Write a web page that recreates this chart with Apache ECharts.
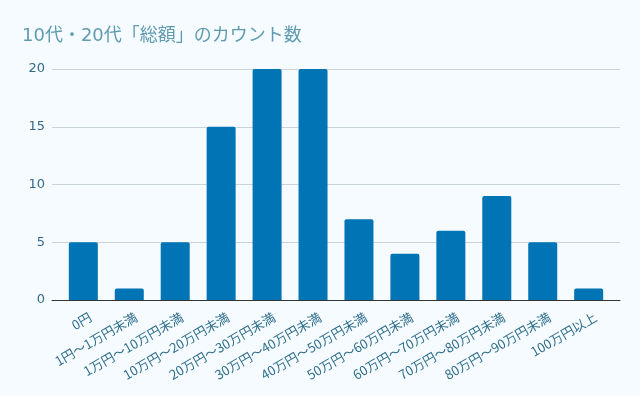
<!DOCTYPE html>
<html><head><meta charset="utf-8">
<script src="https://cdn.jsdelivr.net/npm/echarts@6/dist/echarts.min.js"></script>
<style>html,body{margin:0;padding:0;background:#f5fbff;}#c{width:640px;height:396px;}</style>
</head><body><div id="c"></div>
<script>
const titleText = '10代・20代「総額」のカウント数';
const categories = ['0円','1円～1万円未満','1万円～10万円未満','10万円～20万円未満','20万円～30万円未満','30万円～40万円未満','40万円～50万円未満','50万円～60万円未満','60万円～70万円未満','70万円～80万円未満','80万円～90万円未満','100万円以上'];
const counts = [5,1,5,15,20,20,7,4,6,9,5,1];
const yTicks = [0,5,10,15,20];

const font = '"DejaVu Sans", "Noto Sans CJK JP", sans-serif';
const cjkFont = '"Noto Sans CJK JP", sans-serif';
const labelShift = 0.15;
const chart = echarts.init(document.getElementById('c'));
chart.setOption({
  backgroundColor: '#f5fbff',
  animation: false,
  title: {
    text: titleText, left: 17, top: 22,
    textStyle: {fontFamily: font, fontSize: 18, fontWeight: 'normal', color: '#5f9bb1'}
  },
  grid: {left: 52, right: 20, top: 69, bottom: 96},
  xAxis: {
    type: 'value', min: -0.682, max: categories.length - 1 + 0.682,
    axisLine: {show: true, onZero: false, lineStyle: {color: '#333', width: 1}},
    axisTick: {show: false},
    splitLine: {show: false},
    axisLabel: {
      customValues: categories.map((c, i) => i + labelShift),
      formatter: v => categories[Math.round(v - labelShift)] || '',
      rotate: 30, margin: 16, fontSize: 13, color: '#2f6e8c', fontFamily: cjkFont
    }
  },
  yAxis: {
    type: 'value', min: 0, max: 20, interval: 5,
    axisLine: {show: false}, axisTick: {show: false},
    splitLine: {lineStyle: {color: '#c9d4da', width: 1}},
    axisLabel: {fontSize: 13, color: '#33698a', margin: 7, fontFamily: font,
      customValues: yTicks}
  },
  series: [{
    type: 'bar',
    data: counts.map((v, i) => [i, v]),
    barWidth: 29,
    itemStyle: {color: '#0074b5', borderRadius: [2,2,0,0]}
  }]
});
</script></body></html>
